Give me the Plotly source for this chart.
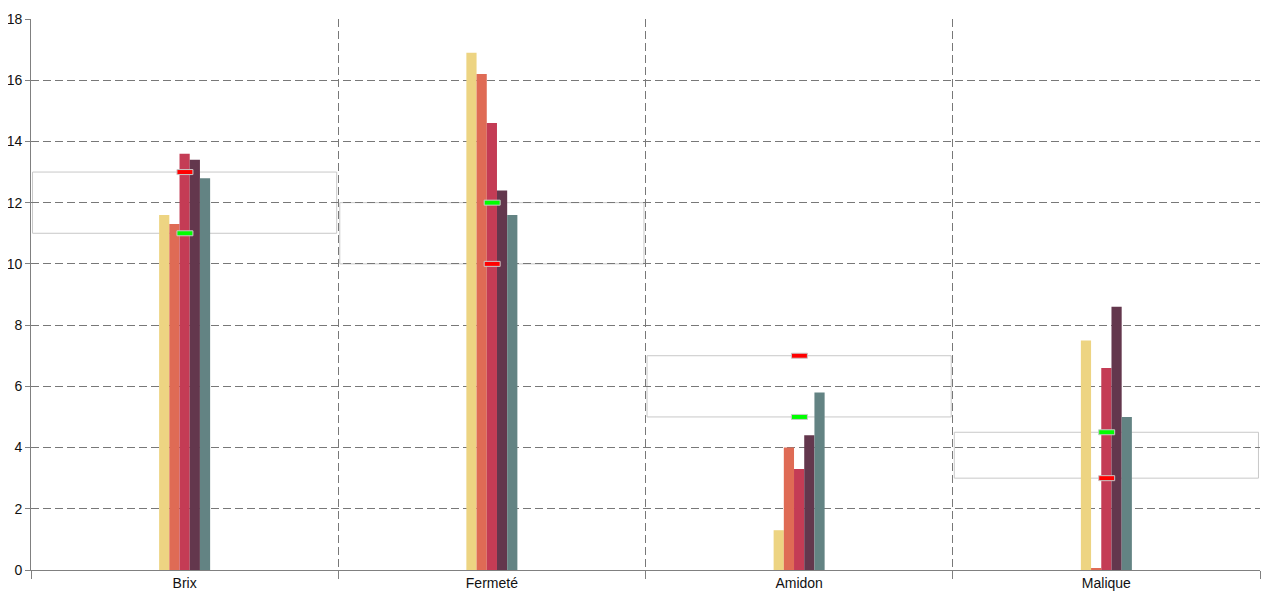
import plotly.graph_objects as go

categories = ['Brix', 'Fermeté', 'Amidon', 'Malique']

serie_1 = [11.6, 16.9, 1.3, 7.5]
serie_2 = [11.3, 16.2, 4.0, 0.05]
serie_3 = [13.6, 14.6, 3.3, 6.6]
serie_4 = [13.4, 12.4, 4.4, 8.6]
serie_5 = [12.8, 11.6, 5.8, 5.0]

# bornes de la plage cible pour chaque critère
green_vals = [11, 12, 5, 4.5]
red_vals = [13, 10, 7, 3]

colors = ['#EDD482', '#DF6B55', '#C43C55', '#63374D', '#638383']

fig = go.Figure()
for vals, col in zip([serie_1, serie_2, serie_3, serie_4, serie_5], colors):
    fig.add_trace(go.Bar(x=categories, y=vals, marker_color=col,
                         marker_line_width=0, showlegend=False))

shapes = []
for i, (g, r) in enumerate(zip(green_vals, red_vals)):
    shapes.append(dict(type='rect', xref='x', yref='y',
                       x0=i - 0.495, x1=i + 0.495, y0=min(g, r), y1=max(g, r),
                       line=dict(color='#C8C8C8', width=1), layer='below'))
for i, (g, r) in enumerate(zip(green_vals, red_vals)):
    for v, c in [(g, '#00FF00'), (r, '#FF0000')]:
        shapes.append(dict(type='rect', xref='x', yref='y',
                           x0=i - 0.025, x1=i + 0.027,
                           ysizemode='pixel', yanchor=v, y0=-2.5, y1=2.5,
                           fillcolor=c, line=dict(color='#C8C8C8', width=1)))

# la page ajoute une marge de 8px autour du graphique
fig.update_layout(
    width=1272, height=592,
    barmode='group', bargap=0.834, bargroupgap=0,
    plot_bgcolor='white', paper_bgcolor='white',
    margin=dict(l=23, r=20, t=11, b=30),
    font=dict(family='Liberation Sans, Arial', size=14, color='#111111'),
    shapes=shapes,
)
fig.update_xaxes(tickson='boundaries', ticks='outside', ticklen=8, tickcolor='#808080',
                 showgrid=True, gridcolor='#787878', griddash='8px,4px', gridwidth=1,
                 showline=True, linecolor='#808080', linewidth=1, automargin=False)
fig.update_yaxes(range=[0, 18], dtick=2, ticks='outside', ticklen=5, tickcolor='#808080',
                 showgrid=True, gridcolor='#787878', griddash='8px,4px', gridwidth=1,
                 showline=True, linecolor='#808080', linewidth=1, automargin=False,
                 zeroline=True, zerolinecolor='#808080', zerolinewidth=1)

fig.write_html("out.html")
